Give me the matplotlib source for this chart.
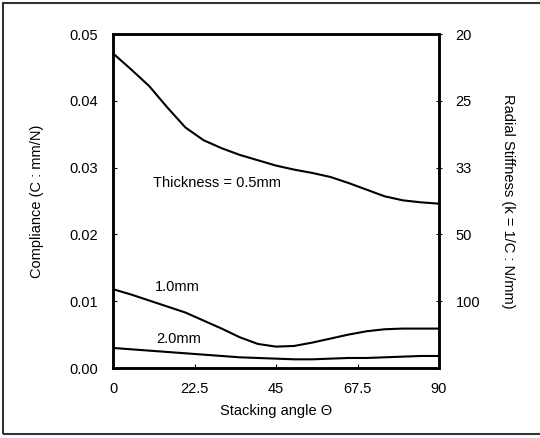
import matplotlib.pyplot as plt
from matplotlib.patches import Rectangle

plt.rcParams['font.family'] = ['Liberation Sans', 'DejaVu Sans']

# stacking angle (deg)
angle = [0, 5, 10, 15, 20, 25, 30, 35, 40, 45, 50, 55, 60, 65, 70, 75, 80, 85, 90]

# compliance C (mm/N) for each thickness
c_05 = [0.0471, 0.0447, 0.0422, 0.0390, 0.0360, 0.0341, 0.0329, 0.0319, 0.0311, 0.0303,
        0.0297, 0.0292, 0.0286, 0.0277, 0.0267, 0.0257, 0.0251, 0.0248, 0.0246]
c_10 = [0.0118, 0.0110, 0.0101, 0.0092, 0.0083, 0.0071, 0.0059, 0.0046, 0.0036, 0.0032,
        0.0033, 0.0038, 0.0044, 0.0050, 0.0055, 0.0058, 0.0059, 0.0059, 0.0059]
c_20 = [0.0030, 0.0028, 0.0026, 0.0024, 0.0022, 0.0020, 0.0018, 0.0016, 0.0015, 0.0014,
        0.0013, 0.0013, 0.0014, 0.0015, 0.0015, 0.0016, 0.0017, 0.0018, 0.0018]

x_ticks = [0, 22.5, 45, 67.5, 90]
x_labels = ['0', '22.5', '45', '67.5', '90']
c_ticks = [0.00, 0.01, 0.02, 0.03, 0.04, 0.05]
k_ticks = [0.01, 0.02, 0.03, 0.04, 0.05]
k_labels = ['100', '50', '33', '25', '20']

fs = 10.5

fig = plt.figure(figsize=(5.4, 4.38), dpi=100)
ax = fig.add_axes([113/540, 1-368/438, 326/540, 334/438])

for c in [c_05, c_10, c_20]:
    ax.plot(angle, c, color='black', lw=1.5)

ax.set_xlim(0, 90)
ax.set_ylim(0, 0.05)
ax.set_xticks(x_ticks)
ax.set_xticklabels(x_labels)
ax.set_yticks(c_ticks)
ax.set_yticklabels([f'{v:.2f}' for v in c_ticks])
ax.tick_params(direction='in', length=3, labelsize=fs)
ax.tick_params(axis='x', pad=10)
ax.tick_params(axis='y', pad=11)
ax.set_xlabel('Stacking angle \u0398', fontsize=fs, labelpad=6)
ax.set_ylabel('Compliance (C : mm/N)', fontsize=fs, labelpad=18)
for s in ax.spines.values():
    s.set_linewidth(1.8)

ax2 = ax.twinx()
ax2.set_ylim(0, 0.05)
ax2.set_yticks(k_ticks)
ax2.set_yticklabels(k_labels)
ax2.tick_params(direction='inout', length=4, labelsize=fs, pad=10)
ax2.set_ylabel('Radial Stiffness (k = 1/C : N/mm)', fontsize=fs, rotation=270, labelpad=25)
for s in ax2.spines.values():
    s.set_linewidth(1.8)

ax.text(11, 0.0277, 'Thickness = 0.5mm', fontsize=fs, va='center')
ax.text(11.5, 0.0121, '1.0mm', fontsize=fs, va='center')
ax.text(12, 0.0044, '2.0mm', fontsize=fs, va='center')

# outer frame
fig.patches.append(Rectangle((3/540, 4/438), 540/540, 431/438, transform=fig.transFigure,
                             fill=False, edgecolor='#333333', lw=1.5))

fig.savefig('out.png', dpi=100)
